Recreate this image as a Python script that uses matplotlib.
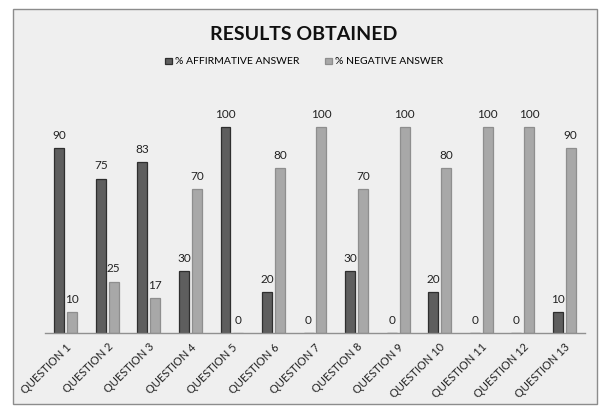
import matplotlib
matplotlib.use("Agg")
import matplotlib.pyplot as plt
from matplotlib.patches import Rectangle
import numpy as np

categories = [f"QUESTION {i}" for i in range(1, 14)]
affirmative = [90, 75, 83, 30, 100, 20, 0, 30, 0, 20, 0, 0, 10]
negative = [10, 25, 17, 70, 0, 80, 100, 70, 100, 80, 100, 100, 90]
series_names = ["% AFFIRMATIVE ANSWER", "% NEGATIVE ANSWER"]

plt.rcParams['font.family'] = ['Lato', 'DejaVu Sans']

W, H = 608, 411
fig = plt.figure(figsize=(W/100, H/100), dpi=100)
fig.patch.set_facecolor('white')
# chart area border
fig.patches.append(Rectangle((13/W, 1-404/H), (597-13)/W, (404-9)/H,
                             transform=fig.transFigure, facecolor='#efefef',
                             edgecolor='#8c8c8c', linewidth=1.0, zorder=-10))

ax = fig.add_axes([45/W, 1-333/H, (585-45)/W, (333-86)/H])
ax.set_zorder(5)
ax.set_facecolor('none')
x = np.arange(len(categories))
w = 0.24
gap = 0.07
b1 = ax.bar(x - w/2 - gap/2, affirmative, w, color='#5e5e5e', edgecolor='#2e2e2e', linewidth=0.9, label=series_names[0])
b2 = ax.bar(x + w/2 + gap/2, negative, w, color='#a8a8a8', edgecolor='#8e8e8e', linewidth=0.9, label=series_names[1])
for bars, vals in ((b1, affirmative), (b2, negative)):
    for r, v in zip(bars, vals):
        ax.text(r.get_x() + r.get_width()/2, v + 3.5, str(v), ha='center', va='bottom', fontsize=8.5, color='#222222')

ax.set_xlim(-0.5, len(categories) - 0.5)
ax.set_ylim(0, 120)
for s in ['top', 'right', 'left']:
    ax.spines[s].set_visible(False)
ax.spines['bottom'].set_color('#909090')
ax.spines['bottom'].set_linewidth(1.0)
ax.set_yticks([])
ax.set_xticks(x)
ax.set_xticklabels(categories, rotation=45, ha='right', rotation_mode='anchor', fontsize=8, color='#222222')
ax.tick_params(axis='x', length=0, pad=6)

fig.text(0.5, 1-35/H, "RESULTS OBTAINED", ha='center', va='center', fontsize=14, fontweight='bold', color='#111111')
fig.legend(handles=[b1, b2], labels=series_names, loc='center', bbox_to_anchor=(0.5, 1-62/H),
           ncol=2, frameon=False, fontsize=7.5, handlelength=0.65, handleheight=0.45,
           handletextpad=0.3, columnspacing=2.5)

fig.savefig("out.png", dpi=100, facecolor='white')
